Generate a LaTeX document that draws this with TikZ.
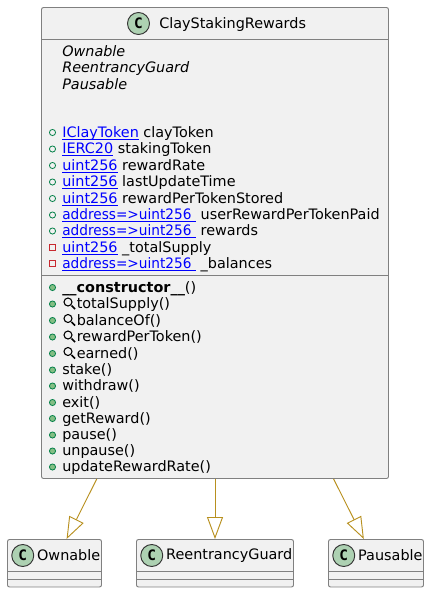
\documentclass[tikz,border=0pt]{standalone}
\usepackage{fontspec}
\setmainfont{DejaVu Sans}
\setmonofont{DejaVu Sans Mono}
\usetikzlibrary{arrows.meta}

\definecolor{classfill}{HTML}{F1F1F1}
\definecolor{classedge}{HTML}{808080}
\definecolor{spotfill}{HTML}{ADD1B2}
\definecolor{inheritline}{HTML}{B8901F}
\definecolor{pubedge}{HTML}{038048}
\definecolor{pubfill}{HTML}{84BE84}
\definecolor{privedge}{HTML}{C82930}

\newcommand{\lnk}[1]{\textcolor{blue}{\underline{\smash{#1}}}}
\newcommand{\addrmap}{{\addfontfeature{FakeStretch=.95}address=>uint256}\ }

\tikzset{
  classbox/.style={draw=classedge,fill=classfill,rounded corners=1.5pt,line width=.7pt,inner sep=0pt},
  classline/.style={draw=classedge,line width=.7pt},
  classspot/.style={circle,draw=black!80,fill=spotfill,line width=.7pt,minimum size=16.5pt,inner sep=0pt,font=\ttfamily\bfseries\fontsize{10.8}{12}\selectfont},
  label/.style={anchor=base west,inner sep=0pt,font=\fontsize{10.8}{12}\selectfont},
  inherit/.style={draw=inheritline,line width=.7pt,-{Triangle[open,length=16.5pt,width=12pt,fill=white]}},
  pubfield/.style={draw=pubedge,line width=.6pt},
  privfield/.style={draw=privedge,line width=.6pt},
  pubmethod/.style={draw=pubedge,fill=pubfill,line width=.6pt},
}

\begin{document}
\begin{tikzpicture}[x=.75pt,y=-.75pt]
  \useasboundingbox (0,0) rectangle (429,593);

  % main class
  \node[classbox,minimum width=260.25pt,minimum height=353.25pt] (main) at (215,243) {};
  \draw[classline] (main.west |- 0,39) -- (main.east |- 0,39);
  \draw[classline] (main.west |- 0,275.5) -- (main.east |- 0,275.5);
  \node[classspot] (mainspot) at (138.5,23.5) {C};
  \node[label] (mainname) at (159,28.5) {ClayStakingRewards};

  % parents listed in the body
  \foreach \y/\t in {56/Ownable,72.5/ReentrancyGuard,89/Pausable}
    \node[label,font=\fontsize{10.8}{12}\selectfont\itshape] (parent\y) at (62,\y) {\t};

  % fields
  \foreach \y/\t/\n in {132/IClayToken/clayToken,
                        148.5/IERC20/stakingToken,
                        165/uint256/rewardRate,
                        181.5/uint256/lastUpdateTime,
                        198/uint256/rewardPerTokenStored,
                        214.5/\addrmap/userRewardPerTokenPaid,
                        230.5/\addrmap/rewards}{
    \draw[pubfield] (52.5,\y+.5) circle (2.3pt);
    \node[label] (field\y) at (62,\y+5) {\lnk{\t} \n};
  }
  \foreach \y/\t/\n in {247/uint256/\_totalSupply,
                        263/\addrmap/\_balances}{
    \draw[privfield] (49.5,\y-2.5) rectangle +(6,6);
    \node[label] (field\y) at (62,\y+5) {\lnk{\t} \n};
  }

  % methods
  \node[label] (ctor) at (62,292) {\textbf{\_\_constructor\_\_}()};
  \draw[pubmethod] (52.5,287.5) circle (2.3pt);
  \foreach \y/\t in {303.5/totalSupply(),320/balanceOf(),336.5/rewardPerToken(),353/earned()}{
    \draw[pubmethod] (52.5,\y+.5) circle (2.3pt);
    \draw[line width=.8pt] (68,\y-1.5) circle (3pt);
    \draw[line width=1.3pt] (71.5,\y+2) -- (75,\y+5.5);
    \node[label] (method\y) at (76.5,\y+5) {\t};
  }
  \foreach \y/\t in {369.5/stake(),385.5/withdraw(),402/exit(),418/getReward(),
                     434.5/pause(),450.5/unpause(),466.5/updateRewardRate()}{
    \draw[pubmethod] (52.5,\y+.5) circle (2.3pt);
    \node[label] (method\y) at (62,\y+5) {\t};
  }

  % parent classes
  \foreach \name/\cx/\w/\t in {ownable/54.5/94/Ownable,
                               guard/215/157/ReentrancyGuard,
                               pausable/376/95/Pausable}{
    \node[classbox,minimum width=\w*.75pt,minimum height=35.6pt] (\name) at (\cx,563.25) {};
    \draw[classline] (\name.west |- 0,571.5) -- (\name.east |- 0,571.5);
    \draw[classline] (\name.west |- 0,579.5) -- (\name.east |- 0,579.5);
    \node[classspot,anchor=west] (\name spot) at ([xshift=3.2pt]\name.west |- 0,555.5) {C};
    \node[label,anchor=west] (\name label) at ([xshift=2pt]\name spot.east) {\t};
  }

  \draw[inherit] (main) -- (ownable);
  \draw[inherit] (main) -- (guard);
  \draw[inherit] (main) -- (pausable);
\end{tikzpicture}
\end{document}
